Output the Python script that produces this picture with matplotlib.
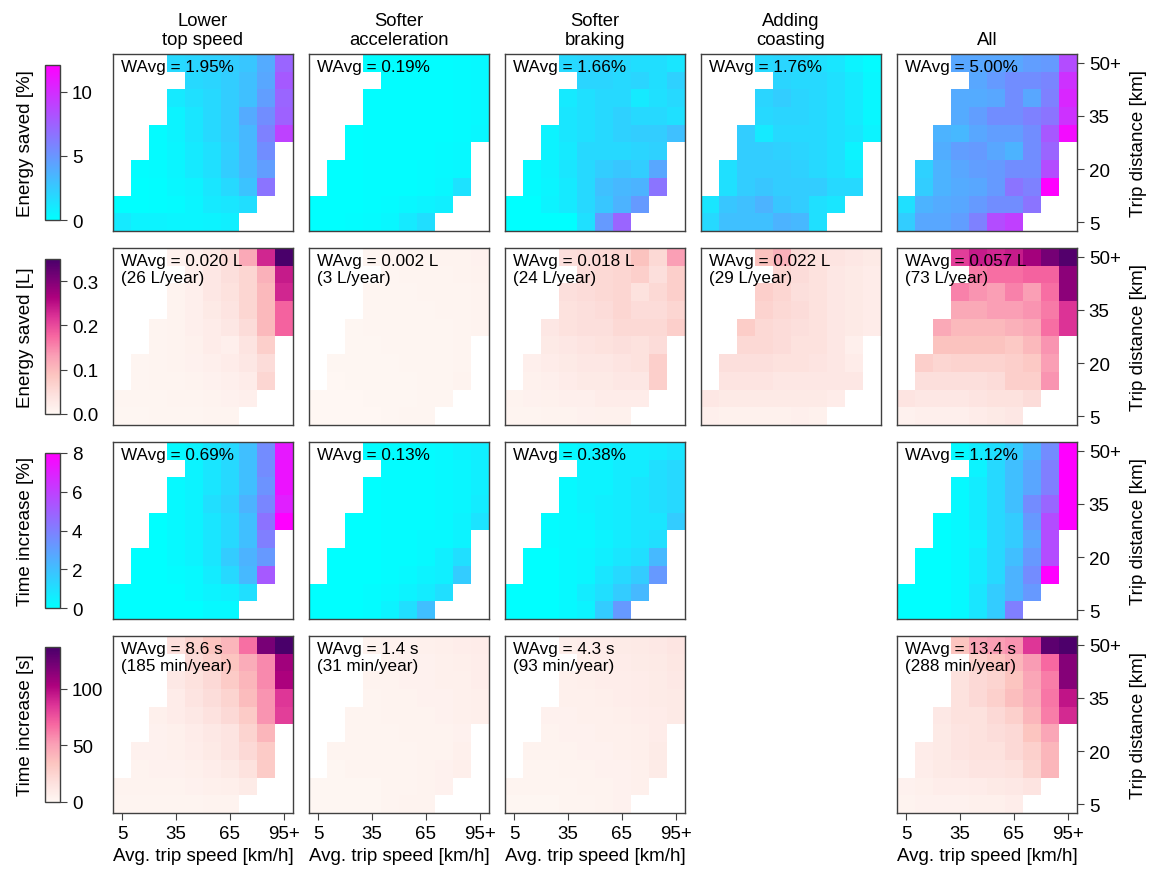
"""Grid of heatmaps: energy saved / time increase per eco-driving measure,
binned by average trip speed (x) and trip distance (y)."""
import numpy as np
import matplotlib
matplotlib.use('Agg')
import matplotlib.pyplot as plt

plt.rcParams['font.family'] = ['Liberation Sans', 'DejaVu Sans']
plt.rcParams['font.size'] = 13.5

n = np.nan

columns = ['Lower\ntop speed', 'Softer\nacceleration', 'Softer\nbraking',
           'Adding\ncoasting', 'All']
speed_ticks = ['5', '35', '65', '95+']     # bins 0, 3, 6, 9
dist_ticks = ['50+', '35', '20', '5']      # bins 0, 3, 6, 9 (top to bottom)

# ---- energy saved [%], rows = distance 50+ .. 5 km, cols = speed 5 .. 95+ km/h
esave_pct_top_speed = [
    [n, n, n, 1.8, 2.0, 2.2, 2.4, 2.7, 4.0, 7.3],
    [n, n, n, n, 1.8, 2.0, 2.4, 3.0, 4.2, 7.8],
    [n, n, n, 1.0, 1.5, 1.8, 2.4, 3.0, 4.6, 7.3],
    [n, n, n, 0.6, 1.2, 1.8, 2.4, 4.0, 5.4, 7.5],
    [n, n, 0.2, 0.6, 1.2, 1.8, 2.4, 3.4, 6.0, 9.0],
    [n, n, 0.2, 0.5, 1.0, 1.5, 2.2, 3.4, 5.4, n],
    [n, 0.1, 0.2, 0.5, 1.0, 1.5, 2.4, 3.4, 4.6, n],
    [n, 0.0, 0.1, 0.4, 0.6, 1.2, 1.8, 2.8, 6.6, n],
    [0.0, 0.0, 0.1, 0.2, 0.5, 1.0, 1.2, 1.6, n, n],
    [1.0, 0.6, 0.6, 0.5, 0.5, 0.6, 0.8, n, n, n],
]
esave_pct_accel = [
    [n, n, n, 0.1, 0.1, 0.1, 0.1, 0.1, 0.2, 0.3],
    [n, n, n, n, 0.1, 0.1, 0.1, 0.1, 0.2, 0.3],
    [n, n, n, 0.1, 0.1, 0.1, 0.1, 0.1, 0.2, 0.3],
    [n, n, n, 0.1, 0.1, 0.1, 0.1, 0.1, 0.2, 0.3],
    [n, n, 0.0, 0.1, 0.1, 0.1, 0.1, 0.1, 0.2, 0.4],
    [n, n, 0.0, 0.1, 0.1, 0.1, 0.1, 0.2, 0.3, n],
    [n, 0.0, 0.0, 0.1, 0.1, 0.1, 0.2, 0.3, 0.4, n],
    [n, 0.0, 0.0, 0.1, 0.1, 0.1, 0.2, 0.4, 1.4, n],
    [0.0, 0.0, 0.0, 0.1, 0.2, 0.4, 0.6, 0.8, n, n],
    [0.0, 0.0, 0.1, 0.2, 0.4, 1.0, 1.6, n, n, n],
]
esave_pct_braking = [
    [n, n, n, 1.8, 2.0, 2.0, 1.8, 1.6, 1.6, 1.2],
    [n, n, n, n, 2.0, 2.0, 1.8, 2.0, 1.6, 2.2],
    [n, n, n, 1.0, 1.5, 1.8, 1.8, 1.0, 1.5, 1.8],
    [n, n, n, 1.2, 1.5, 1.8, 2.2, 1.8, 1.8, 1.5],
    [n, n, 0.6, 1.2, 1.5, 1.8, 2.2, 2.4, 2.4, 3.0],
    [n, n, 0.6, 1.0, 1.8, 1.8, 1.8, 2.0, 2.2, n],
    [n, 0.2, 0.6, 1.2, 1.8, 2.4, 2.7, 2.4, 4.2, n],
    [n, 0.2, 0.5, 1.0, 1.8, 3.0, 3.4, 3.6, 6.6, n],
    [0.0, 0.0, 0.6, 1.0, 1.8, 2.7, 3.6, 4.8, n, n],
    [0.0, 0.0, 0.0, 0.0, 1.5, 4.8, 7.3, n, n, n],
]
esave_pct_coasting = [
    [n, n, n, 1.8, 2.0, 1.8, 1.5, 1.2, 0.6, 0.2],
    [n, n, n, n, 2.0, 1.8, 1.8, 1.5, 1.0, 0.4],
    [n, n, n, 2.0, 2.4, 2.0, 1.8, 1.5, 1.0, 0.4],
    [n, n, n, 1.8, 2.0, 2.0, 1.8, 1.5, 1.0, 0.4],
    [n, n, 2.4, 1.0, 1.8, 1.8, 1.8, 1.5, 1.2, 0.6],
    [n, n, 2.4, 2.4, 2.2, 2.0, 1.8, 1.5, 0.6, n],
    [n, 1.5, 2.4, 2.4, 2.4, 2.2, 1.8, 1.5, 1.0, n],
    [n, 1.5, 2.4, 2.7, 2.4, 2.4, 2.4, 1.8, 1.8, n],
    [1.2, 2.7, 3.0, 3.6, 2.7, 2.4, 1.5, 1.2, n, n],
    [1.8, 3.0, 3.0, 3.0, 3.6, 3.4, 1.5, n, n, n],
]
esave_pct_all = [
    [n, n, n, 4.2, 4.2, 4.2, 4.2, 4.6, 4.8, 8.5],
    [n, n, n, n, 4.2, 4.8, 5.4, 5.4, 5.8, 9.7],
    [n, n, n, 4.0, 4.0, 4.2, 5.4, 4.2, 6.0, 10.3],
    [n, n, n, 4.0, 4.6, 5.4, 5.4, 6.0, 6.6, 9.7],
    [n, n, 3.6, 3.4, 4.2, 4.6, 4.6, 5.4, 7.9, 11.5],
    [n, n, 3.9, 4.6, 4.8, 4.2, 3.6, 5.4, 7.3, n],
    [n, 2.2, 3.6, 4.2, 4.6, 4.8, 5.4, 5.4, 8.5, n],
    [n, 2.4, 3.6, 4.0, 4.2, 4.8, 6.6, 6.0, 12.1, n],
    [1.5, 3.6, 4.0, 4.2, 4.8, 5.4, 5.4, 6.6, n, n],
    [2.4, 4.2, 4.2, 4.6, 6.0, 8.5, 9.1, n, n, n],
]

# ---- energy saved [L] per trip
esave_l_top_speed = [
    [n, n, n, 0.010, 0.015, 0.025, 0.050, 0.120, 0.230, 0.350],
    [n, n, n, n, 0.015, 0.030, 0.045, 0.060, 0.110, 0.240],
    [n, n, n, 0.008, 0.015, 0.030, 0.040, 0.060, 0.100, 0.230],
    [n, n, n, 0.008, 0.015, 0.025, 0.035, 0.060, 0.100, 0.180],
    [n, n, 0.005, 0.008, 0.015, 0.020, 0.030, 0.050, 0.100, 0.180],
    [n, n, 0.005, 0.008, 0.012, 0.020, 0.015, 0.035, 0.070, n],
    [n, 0.004, 0.005, 0.008, 0.010, 0.015, 0.020, 0.030, 0.050, n],
    [n, 0.004, 0.005, 0.006, 0.008, 0.010, 0.015, 0.020, 0.060, n],
    [0.003, 0.003, 0.004, 0.005, 0.006, 0.008, 0.010, 0.015, n, n],
    [0.002, 0.002, 0.003, 0.003, 0.004, 0.005, 0.005, n, n, n],
]
esave_l_accel = [
    [n, n, n, 0.004, 0.005, 0.006, 0.006, 0.007, 0.008, 0.010],
    [n, n, n, n, 0.004, 0.005, 0.005, 0.006, 0.007, 0.009],
    [n, n, n, 0.003, 0.004, 0.004, 0.005, 0.005, 0.006, 0.008],
    [n, n, n, 0.003, 0.003, 0.004, 0.004, 0.005, 0.006, 0.008],
    [n, n, 0.002, 0.003, 0.003, 0.003, 0.004, 0.004, 0.005, 0.008],
    [n, n, 0.002, 0.002, 0.003, 0.003, 0.003, 0.004, 0.005, n],
    [n, 0.002, 0.002, 0.002, 0.002, 0.003, 0.003, 0.004, 0.006, n],
    [n, 0.001, 0.002, 0.002, 0.002, 0.002, 0.003, 0.004, 0.008, n],
    [0.001, 0.001, 0.001, 0.002, 0.002, 0.002, 0.003, 0.004, n, n],
    [0.001, 0.001, 0.001, 0.001, 0.002, 0.003, 0.004, n, n, n],
]
esave_l_braking = [
    [n, n, n, 0.045, 0.050, 0.055, 0.060, 0.090, 0.055, 0.130],
    [n, n, n, n, 0.050, 0.055, 0.060, 0.070, 0.045, 0.070],
    [n, n, n, 0.045, 0.050, 0.055, 0.060, 0.040, 0.055, 0.070],
    [n, n, n, 0.040, 0.045, 0.050, 0.060, 0.050, 0.050, 0.060],
    [n, n, 0.030, 0.040, 0.045, 0.045, 0.055, 0.055, 0.055, 0.070],
    [n, n, 0.025, 0.030, 0.035, 0.040, 0.045, 0.040, 0.050, n],
    [n, 0.015, 0.020, 0.025, 0.030, 0.030, 0.035, 0.040, 0.070, n],
    [n, 0.012, 0.015, 0.020, 0.025, 0.025, 0.030, 0.030, 0.070, n],
    [0.008, 0.010, 0.012, 0.015, 0.015, 0.020, 0.020, 0.020, n, n],
    [0.005, 0.006, 0.008, 0.008, 0.010, 0.012, 0.012, n, n, n],
]
esave_l_coasting = [
    [n, n, n, 0.090, 0.110, 0.050, 0.040, 0.035, 0.030, 0.025],
    [n, n, n, n, 0.060, 0.050, 0.040, 0.030, 0.025, 0.020],
    [n, n, n, 0.070, 0.060, 0.045, 0.040, 0.030, 0.025, 0.020],
    [n, n, n, 0.065, 0.055, 0.050, 0.040, 0.030, 0.025, 0.020],
    [n, n, 0.075, 0.055, 0.050, 0.045, 0.040, 0.030, 0.025, 0.020],
    [n, n, 0.055, 0.055, 0.050, 0.040, 0.040, 0.030, 0.015, n],
    [n, 0.045, 0.045, 0.045, 0.040, 0.040, 0.035, 0.030, 0.020, n],
    [n, 0.035, 0.035, 0.035, 0.030, 0.030, 0.030, 0.030, 0.030, n],
    [0.030, 0.025, 0.025, 0.025, 0.025, 0.025, 0.025, 0.020, n, n],
    [0.015, 0.012, 0.012, 0.012, 0.012, 0.015, 0.012, n, n, n],
]
esave_l_all = [
    [n, n, n, 0.210, 0.240, 0.230, 0.240, 0.270, 0.310, 0.340],
    [n, n, n, n, 0.160, 0.170, 0.170, 0.180, 0.180, 0.290],
    [n, n, n, 0.155, 0.140, 0.130, 0.155, 0.130, 0.170, 0.290],
    [n, n, n, 0.120, 0.120, 0.130, 0.130, 0.140, 0.160, 0.220],
    [n, n, 0.120, 0.100, 0.100, 0.100, 0.110, 0.120, 0.170, 0.220],
    [n, n, 0.090, 0.090, 0.090, 0.090, 0.080, 0.100, 0.140, n],
    [n, 0.070, 0.060, 0.065, 0.065, 0.065, 0.070, 0.080, 0.130, n],
    [n, 0.045, 0.045, 0.045, 0.045, 0.050, 0.070, 0.070, 0.140, n],
    [0.035, 0.030, 0.030, 0.030, 0.035, 0.040, 0.040, 0.050, n, n],
    [0.010, 0.015, 0.015, 0.015, 0.020, 0.025, 0.030, n, n, n],
]

# ---- time increase [%]
tinc_pct_top_speed = [
    [n, n, n, 0.2, 0.4, 0.8, 1.2, 2.0, 3.6, 7.2],
    [n, n, n, n, 0.4, 0.8, 1.2, 2.0, 3.6, 7.4],
    [n, n, n, 0.2, 0.4, 0.8, 1.2, 2.0, 3.4, 7.4],
    [n, n, n, 0.2, 0.4, 1.0, 1.4, 2.4, 3.8, 7.0],
    [n, n, 0.0, 0.2, 0.4, 0.8, 1.2, 2.0, 4.4, 8.0],
    [n, n, 0.0, 0.2, 0.4, 0.8, 1.2, 2.0, 4.0, n],
    [n, 0.0, 0.0, 0.2, 0.4, 0.8, 1.6, 2.4, 3.2, n],
    [n, 0.0, 0.0, 0.1, 0.2, 0.6, 1.2, 2.2, 5.2, n],
    [0.0, 0.0, 0.0, 0.0, 0.2, 0.4, 0.5, 1.0, n, n],
    [0.0, 0.0, 0.0, 0.0, 0.0, 0.2, 0.2, n, n, n],
]
tinc_pct_accel = [
    [n, n, n, 0.1, 0.1, 0.1, 0.1, 0.2, 0.4, 0.5],
    [n, n, n, n, 0.1, 0.1, 0.1, 0.2, 0.3, 0.5],
    [n, n, n, 0.0, 0.1, 0.1, 0.1, 0.2, 0.3, 0.5],
    [n, n, n, 0.0, 0.1, 0.1, 0.1, 0.2, 0.3, 0.6],
    [n, n, 0.0, 0.0, 0.1, 0.1, 0.1, 0.2, 0.4, 0.9],
    [n, n, 0.0, 0.0, 0.1, 0.1, 0.2, 0.2, 0.4, n],
    [n, 0.0, 0.0, 0.0, 0.1, 0.1, 0.2, 0.5, 1.0, n],
    [n, 0.0, 0.0, 0.0, 0.1, 0.2, 0.4, 0.5, 1.6, n],
    [0.0, 0.0, 0.0, 0.1, 0.2, 0.4, 0.6, 1.0, n, n],
    [0.0, 0.0, 0.0, 0.1, 0.4, 1.0, 2.0, n, n, n],
]
tinc_pct_braking = [
    [n, n, n, 0.2, 0.4, 0.4, 0.5, 0.5, 0.6, 0.8],
    [n, n, n, n, 0.4, 0.4, 0.6, 0.6, 1.0, 1.2],
    [n, n, n, 0.2, 0.4, 0.4, 0.6, 0.8, 1.0, 1.2],
    [n, n, n, 0.2, 0.4, 0.5, 0.6, 0.8, 1.0, 1.2],
    [n, n, 0.1, 0.2, 0.3, 0.5, 0.6, 0.8, 0.8, 1.6],
    [n, n, 0.1, 0.2, 0.2, 0.4, 0.6, 0.8, 1.0, n],
    [n, 0.0, 0.0, 0.2, 0.3, 0.5, 0.8, 1.0, 2.2, n],
    [n, 0.0, 0.0, 0.2, 0.3, 0.8, 1.2, 1.6, 3.2, n],
    [0.0, 0.0, 0.0, 0.2, 0.6, 1.0, 1.6, 2.2, n, n],
    [0.0, 0.0, 0.0, 0.2, 0.4, 1.6, 3.2, n, n, n],
]
tinc_pct_all = [
    [n, n, n, 0.2, 0.6, 1.0, 1.6, 2.4, 3.6, 8.0],
    [n, n, n, n, 0.4, 1.2, 2.0, 2.8, 4.0, 8.0],
    [n, n, n, 0.2, 0.6, 1.2, 2.0, 2.8, 4.0, 8.0],
    [n, n, n, 0.2, 0.6, 1.2, 2.0, 3.6, 4.8, 8.0],
    [n, n, 0.0, 0.2, 0.6, 1.2, 1.6, 3.2, 5.6, 8.0],
    [n, n, 0.0, 0.2, 0.4, 1.2, 1.6, 2.8, 5.6, n],
    [n, 0.0, 0.0, 0.2, 0.6, 1.2, 2.0, 3.2, 5.6, n],
    [n, 0.0, 0.0, 0.2, 0.6, 1.2, 2.4, 3.6, 8.0, n],
    [0.0, 0.0, 0.0, 0.2, 0.8, 1.6, 2.4, 3.2, n, n],
    [0.0, 0.0, 0.0, 0.2, 0.8, 1.6, 4.0, n, n, n],
]

# ---- time increase [s] per trip
tinc_s_top_speed = [
    [n, n, n, 17, 25, 34, 41, 66, 120, 137],
    [n, n, n, n, 20, 27, 34, 45, 58, 107],
    [n, n, n, 11, 16, 21, 30, 41, 58, 103],
    [n, n, n, 8, 14, 19, 25, 38, 55, 85],
    [n, n, 5, 8, 11, 15, 21, 30, 55, 82],
    [n, n, 4, 5, 8, 11, 14, 25, 41, n],
    [n, 4, 4, 5, 7, 10, 14, 21, 30, n],
    [n, 3, 4, 4, 5, 7, 10, 16, 30, n],
    [3, 3, 3, 3, 4, 5, 6, 9, n, n],
    [2, 2, 2, 2, 2, 3, 3, n, n, n],
]
tinc_s_accel = [
    [n, n, n, 3, 4, 4, 5, 6, 7, 8],
    [n, n, n, n, 3, 4, 4, 5, 6, 7],
    [n, n, n, 3, 3, 4, 4, 5, 5, 7],
    [n, n, n, 2, 3, 3, 4, 4, 5, 6],
    [n, n, 2, 2, 3, 3, 3, 4, 5, 6],
    [n, n, 2, 2, 2, 3, 3, 3, 4, n],
    [n, 2, 2, 2, 2, 2, 3, 3, 5, n],
    [n, 1, 2, 2, 2, 2, 3, 4, 6, n],
    [1, 1, 1, 1, 2, 2, 3, 4, n, n],
    [1, 1, 1, 1, 2, 3, 3, n, n, n],
]
tinc_s_braking = [
    [n, n, n, 6, 7, 8, 9, 10, 11, 13],
    [n, n, n, n, 6, 7, 8, 9, 10, 12],
    [n, n, n, 5, 6, 7, 7, 8, 9, 11],
    [n, n, n, 5, 5, 6, 7, 8, 9, 10],
    [n, n, 4, 4, 5, 5, 6, 7, 8, 10],
    [n, n, 3, 4, 4, 5, 5, 6, 8, n],
    [n, 3, 3, 3, 4, 4, 5, 6, 9, n],
    [n, 2, 2, 3, 3, 4, 4, 5, 9, n],
    [2, 2, 2, 2, 3, 3, 4, 5, n, n],
    [1, 1, 1, 2, 2, 3, 4, n, n, n],
]
tinc_s_all = [
    [n, n, n, 34, 48, 51, 55, 85, 130, 135],
    [n, n, n, n, 27, 34, 41, 52, 68, 116],
    [n, n, n, 16, 21, 25, 34, 48, 62, 116],
    [n, n, n, 16, 21, 27, 37, 45, 64, 96],
    [n, n, 11, 16, 16, 21, 27, 41, 62, 89],
    [n, n, 10, 14, 16, 19, 21, 34, 48, n],
    [n, 8, 10, 14, 16, 16, 21, 27, 41, n],
    [n, 7, 10, 11, 14, 14, 16, 25, 41, n],
    [4, 5, 7, 7, 8, 10, 11, 14, n, n],
    [3, 4, 4, 4, 5, 5, 7, n, n, n],
]

# weighted averages printed in the panels
wavg_esave_pct = ['WAvg = 1.95%', 'WAvg = 0.19%', 'WAvg = 1.66%', 'WAvg = 1.76%', 'WAvg = 5.00%']
wavg_esave_l = ['WAvg = 0.020 L\n(26 L/year)', 'WAvg = 0.002 L\n(3 L/year)',
                'WAvg = 0.018 L\n(24 L/year)', 'WAvg = 0.022 L\n(29 L/year)',
                'WAvg = 0.057 L\n(73 L/year)']
wavg_tinc_pct = ['WAvg = 0.69%', 'WAvg = 0.13%', 'WAvg = 0.38%', None, 'WAvg = 1.12%']
wavg_tinc_s = ['WAvg = 8.6 s\n(185 min/year)', 'WAvg = 1.4 s\n(31 min/year)',
               'WAvg = 4.3 s\n(93 min/year)', None, 'WAvg = 13.4 s\n(288 min/year)']

rows = [
    dict(label='Energy saved [%]', cmap='cool', vmax=12.1,
         ticks=[0, 5, 10], ticklabels=['0', '5', '10'],
         data=[esave_pct_top_speed, esave_pct_accel, esave_pct_braking,
               esave_pct_coasting, esave_pct_all], notes=wavg_esave_pct),
    dict(label='Energy saved [L]', cmap='RdPu', vmax=0.35,
         ticks=[0, 0.1, 0.2, 0.3], ticklabels=['0.0', '0.1', '0.2', '0.3'],
         data=[esave_l_top_speed, esave_l_accel, esave_l_braking,
               esave_l_coasting, esave_l_all], notes=wavg_esave_l),
    dict(label='Time increase [%]', cmap='cool', vmax=8,
         ticks=[0, 2, 4, 6, 8], ticklabels=['0', '2', '4', '6', '8'],
         data=[tinc_pct_top_speed, tinc_pct_accel, tinc_pct_braking,
               None, tinc_pct_all], notes=wavg_tinc_pct),
    dict(label='Time increase [s]', cmap='RdPu', vmax=137,
         ticks=[0, 50, 100], ticklabels=['0', '50', '100'],
         data=[tinc_s_top_speed, tinc_s_accel, tinc_s_braking,
               None, tinc_s_all], notes=wavg_tinc_s),
]

W, H = 1152, 878
fig = plt.figure(figsize=(W / 100, H / 100), dpi=100)


def px_axes(x, y, w, h):
    return fig.add_axes([x / W, 1 - (y + h) / H, w / W, h / H])


col_x = [113, 309, 505, 701, 897]
row_y = [55, 249, 443, 637]
pw, ph = 180, 177
spine_c = '#404040'

for r, spec in enumerate(rows):
    im = None
    for c in range(5):
        d = spec['data'][c]
        if d is None:
            continue
        ax = px_axes(col_x[c], row_y[r], pw, ph)
        im = ax.imshow(np.array(d, dtype=float), cmap=spec['cmap'], vmin=0,
                       vmax=spec['vmax'], aspect='auto', interpolation='nearest')
        for s in ax.spines.values():
            s.set_color(spine_c)
            s.set_linewidth(1.0)
        ax.text(0.045, 0.97, spec['notes'][c], transform=ax.transAxes,
                ha='left', va='top', fontsize=12.3, linespacing=1.1)
        if r == 0:
            ax.set_title(columns[c], fontsize=13.3, pad=7)
        if r == 3:
            ax.set_xticks([0, 3, 6, 9])
            ax.set_xticklabels(speed_ticks)
            ax.set_xlabel('Avg. trip speed [km/h]', fontsize=13.5, labelpad=4)
        else:
            ax.set_xticks([])
        if c == 4:
            ax.yaxis.tick_right()
            ax.yaxis.set_label_position('right')
            ax.set_yticks([0, 3, 6, 9])
            ax.set_yticklabels(dist_ticks)
            ax.set_ylabel('Trip distance [km]', fontsize=13.5, labelpad=7)
        else:
            ax.set_yticks([])
        ax.tick_params(labelsize=13.5, length=5, color=spine_c)

    cax = px_axes(45, row_y[r] + 11, 15, 155)
    cb = fig.colorbar(im, cax=cax)
    cb.set_ticks(spec['ticks'])
    cb.set_ticklabels(spec['ticklabels'])
    cb.outline.set_edgecolor(spine_c)
    cb.outline.set_linewidth(1.0)
    cax.tick_params(labelsize=13.5, length=5, color=spine_c)
    cax.yaxis.set_label_position('left')
    cb.set_label(spec['label'], fontsize=13.5, labelpad=8)

fig.savefig('out.png', dpi=100)
